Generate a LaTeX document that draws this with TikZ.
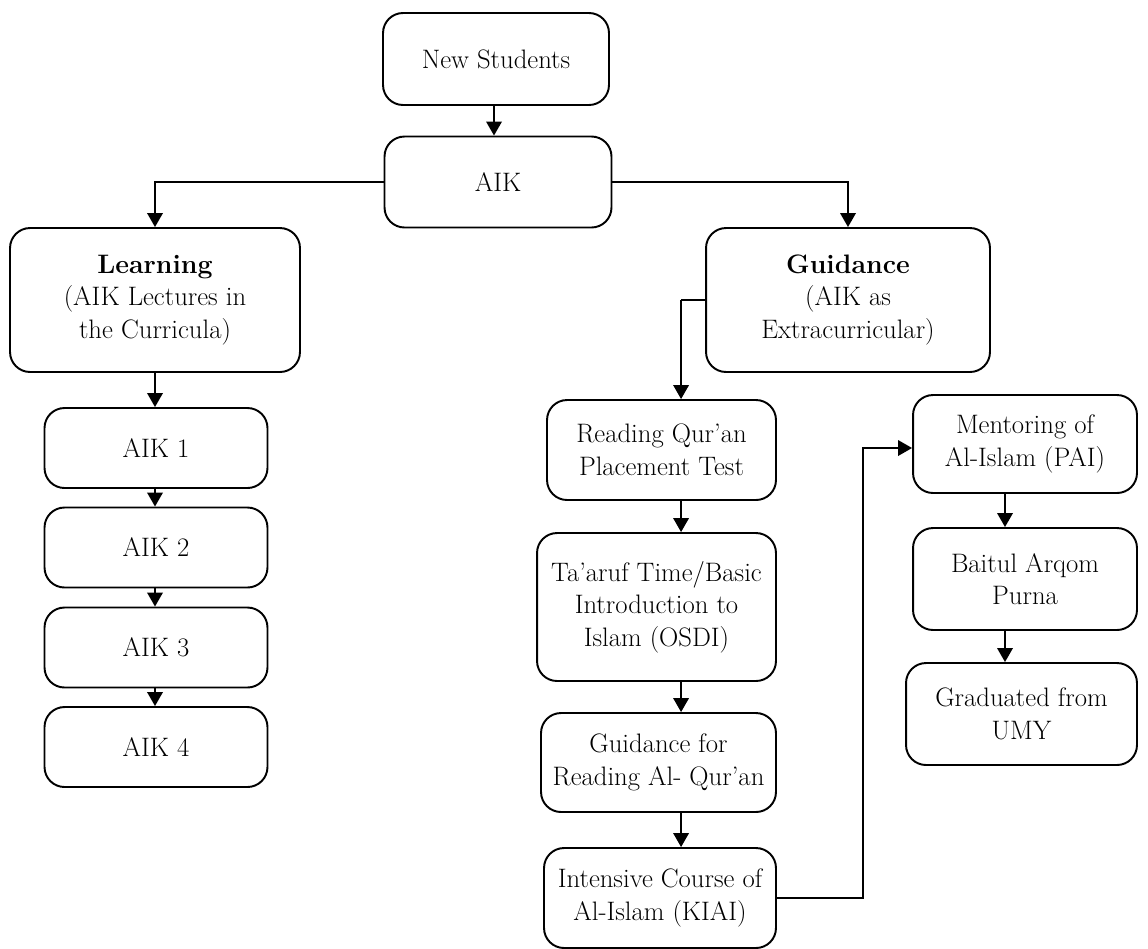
\documentclass[tikz,border=0pt]{standalone}
\usepackage{tikz}
\usetikzlibrary{arrows.meta}
\usetikzlibrary{calc}
\usetikzlibrary{positioning}

\begin{document}
\begin{tikzpicture}[x=0.02cm,y=-0.02cm,>={Triangle[length=2.8mm,width=3.1mm]},line width=1.1pt]
	\tikzstyle{box}=[draw, rectangle, rounded corners=4mm, align=center, inner sep=0pt, font=\fontsize{15.2}{18.5}\selectfont]
	\tikzstyle{arr}=[->]
	\useasboundingbox (0,0) rectangle (1148,948);
	% top
	\node[box, minimum width=4.52cm, minimum height=1.84cm] (new) at (496,59) {New Students};
	\node[box, minimum width=4.54cm, minimum height=1.82cm] (aik) at (498,182) {AIK};
	\node[box, minimum width=5.8cm, minimum height=2.88cm] (learn) at (155,300) {\textbf{Learning}\\(AIK Lectures in\\the Curricula)};
	\node[box, minimum width=5.68cm, minimum height=2.88cm] (guid) at (848,300) {\textbf{Guidance}\\(AIK as\\Extracurricular)};
	% learning column
	\node[box, minimum width=4.46cm, minimum height=1.6cm] (aik1) at (156,448) {AIK 1};
	\node[box, minimum width=4.46cm, minimum height=1.6cm] (aik2) at (156,547.5) {AIK 2};
	\node[box, minimum width=4.46cm, minimum height=1.6cm] (aik3) at (156,647.5) {AIK 3};
	\node[box, minimum width=4.46cm, minimum height=1.6cm] (aik4) at (156,747) {AIK 4};
	% guidance column
	\node[box, minimum width=4.58cm, minimum height=2cm] (read) at (661.5,450) {Reading Qur'an\\Placement Test};
	\node[box, minimum width=4.78cm, minimum height=2.96cm] (taaruf) at (656.5,607) {Ta'aruf Time/Basic\\Introduction to\\Islam (OSDI)};
	\node[box, minimum width=4.7cm, minimum height=1.98cm] (gread) at (658.5,762.5) {Guidance for\\Reading Al- Qur'an};
	\node[box, minimum width=4.64cm, minimum height=2cm] (kiai) at (660,898) {Intensive Course of\\Al-Islam (KIAI)};
	\node[box, minimum width=4.48cm, minimum height=1.96cm] (pai) at (1025,444) {Mentoring of\\Al-Islam (PAI)};
	\node[box, minimum width=4.48cm, minimum height=2.04cm] (bap) at (1025,579) {Baitul Arqom\\Purna};
	\node[box, minimum width=4.62cm, minimum height=2.04cm] (umy) at (1021.5,714) {Graduated from\\UMY};
	\coordinate (pcol) at (1005,0);

	\draw[arr] ([xshift=-0.04cm]new.south) -- ([xshift=-0.04cm]new.south |- aik.north);
	\draw[arr] (aik.west) -| (learn.north);
	\draw[arr] (aik.east) -| (guid.north);
	\draw (guid.west) -- ++(-24,0) coordinate (gcol);
	\draw[arr] (gcol) -- (gcol |- read.north);

	\draw[arr] (learn.south) -- (learn.south |- aik1.north);
	\draw[arr] (learn.south |- aik1.south) -- (learn.south |- aik2.north);
	\draw[arr] (learn.south |- aik2.south) -- (learn.south |- aik3.north);
	\draw[arr] (learn.south |- aik3.south) -- (learn.south |- aik4.north);

	\draw[arr] (gcol |- read.south) -- (gcol |- taaruf.north);
	\draw[arr] (gcol |- taaruf.south) -- (gcol |- gread.north);
	\draw[arr] (gcol |- gread.south) -- (gcol |- kiai.north);

	\draw[arr] (kiai.east) -- ++(86,0) |- ([yshift=-0.08cm]pai.west);
	\draw[arr] (pcol |- pai.south) -- (pcol |- bap.north);
	\draw[arr] (pcol |- bap.south) -- (pcol |- umy.north);
\end{tikzpicture}
\end{document}
